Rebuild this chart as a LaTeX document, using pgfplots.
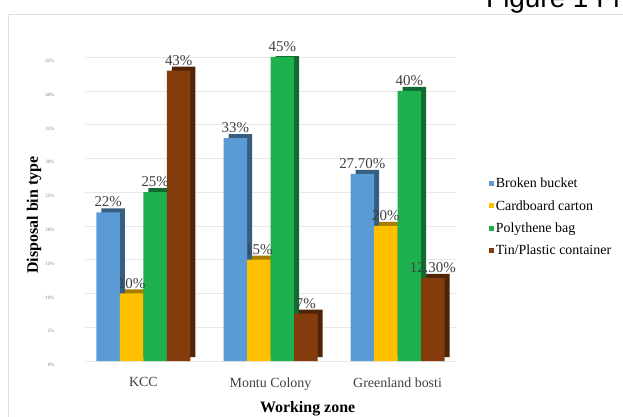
\documentclass[border=0pt]{standalone}
\usepackage{pgfplots}
\pgfplotsset{compat=1.18}
\usepackage{fontspec}
\setmainfont{Liberation Serif}
\newfontfamily\sansf{Liberation Sans}
\definecolor{cblue}{HTML}{5B9BD5}
\definecolor{cyellow}{HTML}{FFC000}
\definecolor{cgreen}{HTML}{1DB04F}
\definecolor{cbrown}{HTML}{843C0C}
\definecolor{lbl}{HTML}{404040}
\pgfplotsset{
  bb/.style={ybar, bar width=23.5bp, bar shift=#1},
  side/.style={forget plot, xshift=5bp, yshift=4bp, draw=none},
  lab/.style={nodes near coords, point meta=explicit symbolic,
    every node near coord/.append style={font=\fontsize{15}{15}\selectfont, text=lbl, anchor=south, xshift=#1, yshift=4bp, inner sep=1bp}},
}
\begin{document}
\begin{tikzpicture}[x=1bp,y=1bp]
\useasboundingbox (0,0) rectangle (623,416);
\draw[gray!25, line width=1bp] (8,-1) rectangle (624,401);
\node[anchor=base west, font=\sansf\fontsize{28}{28}\selectfont, inner sep=0pt] at (486,408) {Figure 1 Fi};
\begin{axis}[
  at={(85bp,55bp)}, anchor=south west,
  scale only axis, width=371bp, height=304bp,
  xmin=-0.46, xmax=2.46, ymin=0, ymax=45,
  xtick={0,1,2}, xticklabels={KCC, Montu Colony, Greenland bosti},
  ytick={0,5,...,45},
  yticklabel={\pgfmathprintnumber{\tick}\%},
  /pgf/number format/assume math mode=true,
  yticklabel style={font=\fontsize{5}{5}\selectfont, text=gray, xshift=-27bp, yshift=-4bp},
  xticklabel style={font=\fontsize{14}{14}\selectfont, text=lbl, yshift=-13bp},
  major tick length=0pt,
  axis line style={draw=none},
  ymajorgrids, grid style={gray!18},
  xlabel={\textbf{Working zone}},
  ylabel={\textbf{Disposal bin type}},
  xlabel style={font=\fontsize{16}{16}\selectfont, at={(axis description cs:0.60,-0.156)}, anchor=center},
  ylabel style={font=\fontsize{16}{16}\selectfont, at={(axis description cs:-0.137,0.48)}, anchor=center},
  legend style={at={(1.088,0.615)}, anchor=north west, draw=none, fill=none,
    font=\fontsize{14}{14}\selectfont, row sep=7bp, legend cell align=left, inner xsep=0pt},
  legend image code/.code={\fill[#1] (0bp,-2.5bp) rectangle (5bp,2.5bp);},
]
\addplot[bb=-35.25bp, side, fill=cblue!60!black] coordinates {(0,22) (1,33) (2,27.7)};
\addplot[bb=-35.25bp, fill=cblue, draw=none, lab=-35.25bp] coordinates {(0,22) [22\%] (1,33) [33\%] (2,27.7) [27.70\%]};
\addplot[bb=-11.75bp, side, fill=cyellow!65!black] coordinates {(0,10) (1,15) (2,20)};
\addplot[bb=-11.75bp, fill=cyellow, draw=none, lab=-11.75bp] coordinates {(0,10) [10\%] (1,15) [15\%] (2,20) [20\%]};
\addplot[bb=11.75bp, side, fill=cgreen!60!black] coordinates {(0,25) (1,45) (2,40)};
\addplot[bb=11.75bp, fill=cgreen, draw=none, lab=11.75bp] coordinates {(0,25) [25\%] (1,45) [45\%] (2,40) [40\%]};
\addplot[bb=35.25bp, side, fill=cbrown!60!black] coordinates {(0,43) (1,7) (2,12.3)};
\addplot[bb=35.25bp, fill=cbrown, draw=none, lab=35.25bp] coordinates {(0,43) [43\%] (1,7) [7\%] (2,12.3) [12.30\%]};
\legend{Broken bucket, Cardboard carton, Polythene bag, Tin/Plastic container}
\end{axis}
\end{tikzpicture}
\end{document}
